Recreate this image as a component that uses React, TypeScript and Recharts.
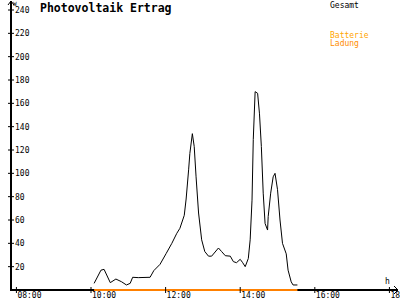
import React from 'react';
import { LineChart, Line, XAxis, YAxis } from 'recharts';

const times: string[] = [
  '10:05', '10:16', '10:21', '10:31', '10:40', '10:49', '10:57', '11:03', '11:07', '11:16',
  '11:35', '11:41', '11:51', '12:01', '12:10', '12:18', '12:23', '12:30', '12:33', '12:37',
  '12:39', '12:43', '12:46', '12:49', '12:53', '12:58', '13:03', '13:09', '13:14', '13:25',
  '13:30', '13:36', '13:44', '13:49', '13:54', '14:00', '14:04', '14:08', '14:13', '14:16',
  '14:19', '14:21', '14:24', '14:28', '14:31', '14:34', '14:37', '14:40', '14:44', '14:45',
  '14:49', '14:53', '14:56', '15:00', '15:04', '15:08', '15:14', '15:17', '15:22', '15:25',
  '15:32',
];

const gesamt: number[] = [
  5.7, 17, 17.7, 6.3, 9.4, 7.1, 4.3, 5.7, 10.9, 10.6,
  10.9, 16.6, 22, 31.4, 40, 48.6, 52.9, 64, 78, 103,
  117, 134, 123, 97, 66, 43, 33, 29, 29, 36,
  33, 29.4, 29, 24.3, 23.4, 26.3, 23.4, 20, 27, 43,
  77, 129, 170, 168.6, 151, 123, 83, 57, 51.4, 63,
  83, 97, 100, 86, 60, 40, 31, 17, 7, 4.3,
  4.3,
];

const ladung: number[] = [
  0, 0, 0, 0, 0, 0, 0, 0, 0, 0,
  0, 0, 0, 0, 0, 0, 0, 0, 0, 0,
  0, 0, 0, 0, 0, 0, 0, 0, 0, 0,
  0, 0, 0, 0, 0, 0, 0, 0, 0, 0,
  0, 0, 0, 0, 0, 0, 0, 0, 0, 0,
  0, 0, 0, 0, 0, 0, 0, 0, 0, 0,
  0,
];

const yTicks: number[] = [20, 40, 60, 80, 100, 120, 140, 160, 180, 200, 220, 240];
const xTicks: number[] = [8, 10, 12, 14, 16, 18];
const xTickLabels: string[] = ['08:00', '10:00', '12:00', '14:00', '16:00', '18:00'];

const toHours = (t: string) => {
  const [h, m] = t.split(':').map(Number);
  return h + m / 60;
};

const data = times.map((t, i) => ({ t: toHours(t), gesamt: gesamt[i], ladung: ladung[i] }));

const FONT = 'DejaVu Sans Mono';

const YTick = (props: any) => {
  const { x, y, payload } = props;
  return (
    <g>
      <line x1={x - 3} x2={x + 3} y1={y} y2={y} stroke="#000" strokeWidth={1} />
      <text x={x + 4} y={y + 3} fontSize={8} fontFamily={FONT} fill="#000">
        {payload.value}
      </text>
    </g>
  );
};

const XTick = (props: any) => {
  const { x, y, payload } = props;
  const idx = xTicks.indexOf(payload.value);
  return (
    <g>
      <line x1={x} x2={x} y1={y - 3} y2={y + 3} stroke="#000" strokeWidth={1} />
      <text x={x + 1} y={y + 8} fontSize={8} fontFamily={FONT} fill="#000">
        {idx >= 0 ? xTickLabels[idx] : ''}
      </text>
    </g>
  );
};

export default function App() {
  return (
    <div style={{ position: 'absolute', left: 0, top: 0, width: 400, height: 300, background: '#fff' }}>
      <svg
        width={400}
        height={300}
        style={{ position: 'absolute', left: 0, top: 0 }}
      >
        <line x1={10} x2={398} y1={290} y2={290} stroke="#000" strokeWidth={2} />
      </svg>
      <div style={{ position: 'absolute', left: 0, top: 0 }}>
        <LineChart width={400} height={300} data={data} margin={{ top: 3, right: 2, left: 0, bottom: 0 }}>
          <XAxis
            dataKey="t"
            type="number"
            domain={[7.855, 18.23]}
            ticks={xTicks}
            height={10}
            tickSize={0}
            tickMargin={0}
            tickLine={false}
            axisLine={false}
            tick={<XTick />}
            interval={0}
          />
          <YAxis
            type="number"
            domain={[0, 246]}
            ticks={yTicks}
            width={11}
            tickSize={0}
            tickMargin={0}
            tickLine={false}
            axisLine={{ stroke: '#000', strokeWidth: 2 }}
            tick={<YTick />}
            interval={0}
          />
          <Line
            dataKey="gesamt"
            type="linear"
            stroke="#000"
            strokeWidth={1}
            dot={false}
            isAnimationActive={false}
          />
          <Line
            dataKey="ladung"
            type="linear"
            stroke="#FF8000"
            strokeWidth={2}
            dot={false}
            isAnimationActive={false}
          />
        </LineChart>
      </div>
      <svg
        width={400}
        height={300}
        style={{ position: 'absolute', left: 0, top: 0, pointerEvents: 'none' }}
      >
        <line x1={11} x2={11} y1={1} y2={4} stroke="#000" strokeWidth={2} />
        <polyline points="8,5 11,1 14,5" fill="none" stroke="#000" strokeWidth={1} />
        <polyline points="394,286 398,290 394,294" fill="none" stroke="#000" strokeWidth={1} />
        <text x={13} y={5.5} fontSize={6} fontFamily={FONT} fill="#000">W</text>
        <text x={40} y={12} fontSize={11.5} fontWeight="bold" fontFamily={FONT} fill="#000">
          Photovoltaik Ertrag
        </text>
        <text x={330} y={8} fontSize={8} fontFamily={FONT} fill="#000">Gesamt</text>
        <text x={330} y={38} fontSize={8} fontFamily={FONT} fill="#FFA500">Batterie</text>
        <text x={330} y={46} fontSize={8} fontFamily={FONT} fill="#FF8C00">Ladung</text>
        <text x={385} y={284} fontSize={8} fontFamily={FONT} fill="#000">h</text>
      </svg>
    </div>
  );
}
